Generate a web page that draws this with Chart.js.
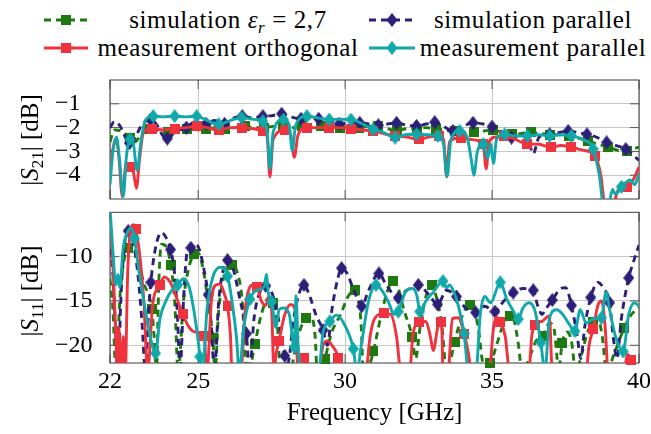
<!DOCTYPE html>
<html lang="en">
<head>
<meta charset="UTF-8">
<title>S-parameters</title>
<script src="https://cdn.jsdelivr.net/npm/chart.js"></script>
<style>
  body { margin: 0; background: #fff; }
  .page {
    position: relative;
    width: 651px;
    height: 434px;
    overflow: hidden;
    font-family: "Liberation Serif", "Times New Roman", serif;
    color: #000;
  }
  canvas { position: absolute; left: 0; }
  #s21Chart { top: 0; }
  #s11Chart { top: 205px; }
  .sample { position: absolute; }
  .legend-text {
    position: absolute;
    font-size: 25px;
    letter-spacing: 0.6px;
    line-height: 30px;
    text-align: center;
    white-space: nowrap;
  }
  .ylabel {
    position: absolute;
    width: 200px;
    height: 30px;
    line-height: 30px;
    font-size: 25px;
    text-align: center;
    white-space: nowrap;
    transform: rotate(-90deg);
  }
  .xlabel {
    position: absolute;
    left: 110px;
    width: 529px;
    top: 397px;
    line-height: 30px;
    font-size: 25px;
    text-align: center;
  }
  sub { font-size: 0.68em; vertical-align: -0.28em; line-height: 0; }
</style>
</head>
<body>
<div class="page">
  <!-- legend, two rows -->
  <svg class="sample" style="left:44px;top:13px" width="44" height="14">
    <line x1="0" y1="7" x2="44" y2="7" stroke="#1e7a10" stroke-width="2.9" stroke-dasharray="7 5"/>
    <rect x="17" y="2" width="10" height="10" fill="#1e7a10"/>
  </svg>
  <div class="legend-text" style="left:96px;width:264px;top:5px">simulation <i>ε</i><sub><i>r</i></sub> = 2,7</div>
  <svg class="sample" style="left:369px;top:12px" width="46" height="16">
    <line x1="0" y1="8" x2="46" y2="8" stroke="#2c1f78" stroke-width="2.9" stroke-dasharray="7 5"/>
    <polygon points="23,1 28.5,8 23,15 17.5,8" fill="#2c1f78"/>
  </svg>
  <div class="legend-text" style="left:417px;width:232px;top:5px">simulation parallel</div>

  <svg class="sample" style="left:44px;top:41px" width="44" height="14">
    <line x1="0" y1="7" x2="44" y2="7" stroke="#f0323e" stroke-width="2.9"/>
    <rect x="17" y="2" width="10" height="10" fill="#f0323e"/>
  </svg>
  <div class="legend-text" style="left:96px;width:264px;top:33px">measurement orthogonal</div>
  <svg class="sample" style="left:369px;top:40px" width="46" height="16">
    <line x1="0" y1="8" x2="46" y2="8" stroke="#10a8a8" stroke-width="2.9"/>
    <polygon points="23,1 28.5,8 23,15 17.5,8" fill="#10a8a8"/>
  </svg>
  <div class="legend-text" style="left:417px;width:232px;top:33px">measurement parallel</div>

  <canvas id="s21Chart" width="651" height="205"></canvas>
  <canvas id="s11Chart" width="651" height="229"></canvas>

  <div class="ylabel" style="left:-70px;top:125px">|<i>S</i><sub>21</sub>| [dB]</div>
  <div class="ylabel" style="left:-70px;top:276px">|<i>S</i><sub>11</sub>| [dB]</div>
  <div class="xlabel">Frequency [GHz]</div>
</div>

<script>
// axis ticks
const xTicks = [22, 25, 30, 35, 40];
const s21Ticks = [-4, -3, -2, -1];
const s11Ticks = [-20, -15, -10];

// samples as [GHz, dB]; a third entry 1 means a mark sits on that sample
const s21SimEps = [
  [22.0,-2.6],[22.15,-2.1],[22.4,-2.15],[22.68,-2.45,1],[22.85,-2.6],[23.05,-2.3],[23.33,-2.05,1],
  [23.6,-2.1],[23.8,-2.3],[23.98,-2.2,1],[24.3,-2.05],[24.63,-2.05,1],[24.95,-2.1],[25.28,-2.05,1],
  [25.6,-2.0],[25.93,-2.05,1],[26.25,-2.0],[26.58,-1.95,1],[26.9,-2.0],[27.23,-2.0,1],[27.55,-1.95],
  [27.88,-1.95,1],[28.2,-2.0],[28.53,-1.95,1],[28.85,-1.95],[29.18,-1.95,1],[29.5,-1.95],[29.83,-2.0,1],
  [30.15,-2.0],[30.48,-2.0,1],[30.8,-1.95],[31.13,-1.95,1],[31.45,-2.05],[31.78,-2.12,1],[32.1,-2.05],
  [32.43,-2.05,1],[32.75,-2.0],[33.08,-2.05,1],[33.4,-2.1],[33.73,-2.15,1],[34.05,-2.2],[34.38,-2.2,1],
  [34.7,-2.15],[35.03,-2.1,1],[35.35,-2.2],[35.68,-2.28,1],[36.0,-2.25],[36.33,-2.2,1],[36.65,-2.25],
  [36.98,-2.3,1],[37.3,-2.3],[37.63,-2.35,1],[37.95,-2.45],[38.28,-2.55,1],[38.6,-2.7],[38.93,-2.8,1],
  [39.25,-2.95],[39.58,-3.0,1],[39.8,-2.9],[40.0,-2.82]
];
const s21SimPar = [
  [22.0,-2.0],[22.15,-1.75],[22.35,-1.95],[22.5,-2.35],[22.66,-2.65,1],[22.85,-2.45],[23.05,-1.95],
  [23.38,-1.66,1],[23.6,-1.9],[23.8,-2.35],[23.95,-2.46,1],[24.2,-2.2],[24.6,-2.0,1],[24.9,-1.75],
  [25.27,-1.84,1],[25.55,-1.7],[25.9,-1.84,1],[26.2,-1.6],[26.5,-1.52,1],[26.85,-1.6],[27.2,-1.52,1],
  [27.5,-1.5],[27.84,-1.42,1],[28.15,-1.55],[28.5,-1.63,1],[28.8,-1.6],[29.1,-1.63,1],[29.45,-1.7],
  [29.8,-1.84,1],[30.15,-1.8],[30.5,-1.8,1],[30.8,-1.85],[31.13,-1.9,1],[31.45,-1.85],[31.75,-1.8,1],
  [32.1,-1.9],[32.43,-1.93,1],[32.75,-1.85],[33.05,-1.77,1],[33.35,-1.95],[33.67,-2.14,1],[34.0,-1.95],
  [34.35,-1.8,1],[34.7,-1.85],[35.0,-1.96,1],[35.35,-2.2],[35.66,-2.42,1],[35.95,-2.3],[36.25,-2.6],
  [36.4,-3.1],[36.6,-2.4],[36.96,-2.28,1],[37.3,-2.2],[37.59,-2.14,1],[37.9,-2.2],[38.23,-2.28,1],
  [38.55,-2.4],[38.9,-2.62,1],[39.2,-2.75],[39.55,-2.9,1],[39.8,-3.15],[40.0,-3.38]
];
const s21MeasOrth = [
  [22.0,-3.7],[22.1,-2.9],[22.2,-2.45],[22.3,-3.2],[22.42,-4.9],[22.55,-3.5],[22.68,-3.66,1],
  [22.8,-3.9],[22.9,-4.55],[23.0,-3.4],[23.13,-2.25],[23.42,-2.04,1],[23.8,-2.1],[24.2,-2.04,1],
  [24.6,-2.0],[24.95,-1.93,1],[25.3,-2.0],[25.7,-2.11,1],[26.1,-2.0],[26.5,-2.0,1],[26.9,-2.05],
  [27.2,-2.14,1],[27.35,-2.4],[27.44,-4.07],[27.55,-2.5],[27.95,-2.11,1],[28.15,-2.3],[28.27,-3.25],
  [28.4,-2.3],[28.7,-2.0,1],[29.1,-2.0],[29.46,-2.0,1],[29.8,-2.0],[30.2,-2.04,1],[30.6,-2.1],
  [30.94,-2.14,1],[31.3,-2.25],[31.7,-2.35,1],[32.1,-2.4],[32.5,-2.49,1],[32.85,-2.4],[33.2,-2.35,1],
  [33.35,-2.5],[33.45,-4.07],[33.55,-2.6],[33.95,-2.42,1],[34.3,-2.5],[34.7,-2.69,1],[34.8,-3.73],
  [34.9,-2.6],[35.1,-2.4],[35.4,-2.35,1],[35.8,-2.5],[36.2,-2.69,1],[36.6,-2.7],[37.0,-2.83,1],
  [37.35,-2.75],[37.7,-2.83,1],[38.1,-2.95],[38.5,-3.18,1],[38.7,-4.0],[38.85,-5.3],[39.1,-5.3],
  [39.3,-4.6],[39.6,-4.5,1],[39.8,-4.2],[40.0,-3.66]
];
const s21MeasPar = [
  [22.0,-4.4],[22.1,-3.0],[22.22,-2.4],[22.32,-3.3],[22.45,-4.9],[22.56,-3.2],[22.68,-2.49,1],
  [22.8,-2.7],[22.92,-3.8],[23.05,-2.6],[23.2,-1.7],[23.47,-1.52,1],[23.8,-1.55],[24.2,-1.52,1],
  [24.6,-1.55],[24.95,-1.52,1],[25.3,-1.7],[25.7,-1.86,1],[26.1,-1.7],[26.48,-1.58,1],[26.85,-1.65],
  [27.2,-1.73,1],[27.35,-2.2],[27.44,-3.73],[27.55,-2.2],[27.9,-1.66,1],[28.1,-1.9],[28.2,-2.97],
  [28.32,-1.9],[28.7,-1.52,1],[29.1,-1.6],[29.46,-1.66,1],[29.8,-1.65],[30.2,-1.66,1],[30.6,-1.85],
  [30.95,-2.07,1],[31.3,-2.2],[31.7,-2.42,1],[32.05,-2.3],[32.43,-2.28,1],[32.8,-2.3],[33.16,-2.35,1],
  [33.35,-2.7],[33.47,-4.07],[33.6,-2.5],[33.9,-2.14,1],[34.15,-2.4],[34.3,-3.4],[34.38,-4.0],
  [34.5,-3.0],[34.7,-2.69,1],[34.85,-3.3],[34.95,-2.7],[35.05,-3.5],[35.15,-2.5],[35.43,-2.28,1],
  [35.8,-2.35],[36.2,-2.35,1],[36.6,-2.3],[36.96,-2.35,1],[37.3,-2.3],[37.7,-2.35,1],[38.1,-2.5],
  [38.44,-2.9,1],[38.65,-4.0],[38.8,-5.3],[38.95,-5.3],[39.1,-4.6],[39.2,-4.8],[39.4,-4.49,1],
  [39.7,-4.2],[39.85,-4.4],[40.0,-3.94]
];

const s11SimEps = [
  [22.0,-12.5],[22.1,-16],[22.2,-23],[22.35,-14],[22.5,-10],[22.62,-9.07,1],[22.78,-8.8],[22.95,-10.5],
  [23.15,-13],[23.42,-15.9,1],[23.5,-19],[23.58,-23],[23.66,-13],[23.75,-8.6],[23.9,-8.8],[24.07,-11.0,1],
  [24.2,-15],[24.32,-23],[24.5,-15],[24.7,-11],[24.87,-9.75,1],[25.0,-9.6],[25.2,-12],[25.35,-15.5],
  [25.5,-19.2,1],[25.57,-23],[25.7,-16],[25.9,-12],[26.14,-10.9,1],[26.3,-11.5],[26.5,-15],[26.65,-23],
  [26.8,-22],[26.93,-19.9,1],[27.15,-16.5],[27.4,-14.7],[27.56,-15.2,1],[27.7,-18],[27.8,-23],[28.1,-23],
  [28.4,-19],[28.67,-16.9,1],[28.85,-16.8],[28.98,-19],[29.05,-23],[29.2,-22.5],[29.31,-21.5,1],
  [29.55,-18.5],[29.85,-16.5],[30.1,-14.5],[30.33,-13.8,1],[30.45,-14.3],[30.55,-18],[30.62,-23],
  [30.8,-22.5],[30.96,-20.7,1],[31.2,-17],[31.45,-13.8],[31.64,-12.76,1],[31.8,-13.5],[32.0,-16],
  [32.28,-19.05,1],[32.4,-21.5],[32.55,-18],[32.75,-14.5],[32.94,-13.2,1],[33.1,-14.5],[33.3,-18],
  [33.45,-23],[33.6,-21.5],[33.73,-19.6,1],[33.95,-17],[34.24,-15.5,1],[34.4,-16],[34.55,-18.5],
  [34.7,-22],[34.93,-22,1],[35.15,-20],[35.4,-17.5],[35.6,-16.7,1],[35.75,-17.2],[35.9,-20],[36.02,-23],
  [36.2,-22],[36.5,-19.5],[36.74,-18.9,1],[36.95,-17.5],[37.1,-18],[37.2,-21],[37.25,-23],[37.39,-19.7,1],
  [37.55,-18.5],[37.7,-19.5],[37.85,-23],[38.05,-21],[38.25,-18.5],[38.44,-17.4,1],[38.6,-17.0],
  [38.75,-19],[38.9,-23],[39.15,-21],[39.49,-18.1,1],[39.75,-16.5],[40.0,-15.8]
];
const s11SimPar = [
  [22.0,-7.7],[22.1,-12],[22.2,-19],[22.27,-23],[22.38,-14],[22.5,-8.5],[22.62,-7.1,1],[22.75,-7.8],
  [22.95,-12],[23.1,-18],[23.2,-23],[23.3,-17],[23.39,-12.9,1],[23.55,-9.0],[23.75,-7.3],[23.9,-7.8],
  [24.06,-9.2,1],[24.2,-12],[24.3,-17],[24.38,-23],[24.5,-15],[24.62,-9.6],[24.75,-9.0,1],[24.9,-8.5],
  [25.05,-9.3],[25.2,-11.5],[25.34,-14.3,1],[25.45,-18],[25.55,-23],[25.7,-15],[25.85,-11.5],
  [26.0,-10.4,1],[26.2,-11.5],[26.4,-14.5],[26.64,-18.7,1],[26.75,-23],[26.9,-17],[27.1,-14],
  [27.3,-13.3,1],[27.5,-14],[27.7,-16.5],[27.95,-21.2,1],[28.05,-22],[28.25,-17],[28.45,-14],
  [28.6,-13.2,1],[28.8,-14.5],[29.0,-16.5],[29.25,-18.3,1],[29.4,-20],[29.55,-16],[29.75,-12.5],
  [29.88,-11.3,1],[30.05,-11.8],[30.3,-13.8],[30.56,-15.6,1],[30.8,-13.8],[31.15,-11.9,1],[31.4,-13.2],
  [31.81,-14.65,1],[32.1,-13.8],[32.49,-13.2,1],[32.85,-14.3],[33.15,-15.4,1],[33.45,-13.8],
  [33.79,-14.5,1],[34.1,-15.8],[34.44,-16.3,1],[34.75,-15.6],[35.1,-16.2,1],[35.4,-15.0],[35.72,-14.05,1],
  [36.05,-13.6],[36.4,-13.8,1],[36.55,-15.5],[36.7,-16.5],[36.85,-15.8],[37.05,-14.9,1],[37.3,-13.7],
  [37.5,-13.5],[37.7,-15.5,1],[37.9,-19],[38.02,-21.5],[38.15,-18],[38.36,-14.6,1],[38.6,-12.9],
  [38.8,-13.6],[39.0,-15.2,1],[39.12,-19],[39.25,-21.5],[39.4,-17],[39.65,-12.4,1],[39.85,-10.2],[40.0,-8.7]
];
const s11MeasOrth = [
  [22.0,-5.7],[22.1,-11],[22.2,-19],[22.25,-23],[22.3,-18],[22.37,-23],[22.45,-19],[22.52,-23],
  [22.6,-12],[22.7,-7.0],[22.8,-6.4],[22.87,-6.9,1],[23.0,-9.5],[23.15,-15],[23.28,-23],[23.45,-15.5],
  [23.7,-13.2,1],[23.85,-12.3],[24.05,-12.9],[24.25,-14.5],[24.47,-16.5,1],[24.7,-18],[24.9,-18.5],
  [25.2,-18.9,1],[25.3,-23],[25.45,-15],[25.6,-13.2],[25.75,-13.1],[25.9,-14.3],[26.0,-15.55,1],
  [26.1,-19],[26.15,-23],[26.45,-23],[26.6,-16],[26.85,-13.2],[27.0,-13.4,1],[27.15,-15],[27.3,-15.5],
  [27.4,-14.5],[27.5,-16],[27.58,-23],[27.65,-21],[27.75,-19.5,1],[27.95,-16.5],[28.15,-15.4],
  [28.3,-16],[28.4,-23],[28.5,-22],[28.6,-21.4,1],[28.7,-23],[29.1,-23],[29.25,-20],[29.4,-19.5],
  [29.55,-20],[29.77,-21.4,1],[29.85,-23],[30.7,-23],[30.85,-19],[31.0,-17],[31.33,-16.4,1],
  [31.55,-16.5],[31.75,-19],[31.9,-23],[32.2,-23],[32.3,-19],[32.51,-17.4,1],[32.75,-17.3],[32.9,-19],
  [33.0,-20.6],[33.15,-18],[33.26,-17.35,1],[33.3,-19],[33.33,-23],[33.5,-23],[33.65,-17],[33.85,-16.9],
  [34.05,-18.7,1],[34.2,-21],[34.3,-23],[34.9,-23],[35.05,-18],[35.15,-16.8],[35.27,-17.35,1],
  [35.45,-19],[35.6,-23],[36.25,-23],[36.35,-19],[36.46,-17.7,1],[36.7,-17.3],[36.95,-16.7],[37.05,-23],
  [38.2,-23],[38.3,-20],[38.44,-18.2,1],[38.6,-15.5],[38.73,-15.0],[38.85,-18],[38.95,-23],[39.5,-23],
  [39.6,-21],[39.72,-21.7,1],[39.8,-23],[40.0,-23]
];
const s11MeasPar = [
  [22.0,-4.5],[22.1,-9.5],[22.2,-13.2],[22.27,-12],[22.33,-13.5],[22.45,-9],[22.6,-7.2],[22.72,-6.8],
  [22.83,-7.95,1],[23.0,-12],[23.2,-16],[23.4,-19.5],[23.55,-20.9,1],[23.7,-17],[23.9,-15.0],[24.1,-13.8],
  [24.3,-13.2,1],[24.5,-12.5],[24.7,-13.5],[24.85,-16],[25.0,-19.5],[25.06,-21.3,1],[25.15,-23],
  [25.3,-16],[25.5,-12.3],[25.75,-11.2],[26.0,-12.2,1],[26.15,-15],[26.3,-19],[26.4,-23],[26.55,-18],
  [26.76,-14.8,1],[27.0,-13.8],[27.25,-13.4],[27.32,-12.0],[27.38,-14],[27.5,-15.1,1],[27.65,-18],
  [27.75,-16],[27.9,-15.8],[28.1,-16.5],[28.27,-20.2,1],[28.33,-14.4],[28.4,-20],[28.5,-23],[29.1,-23],
  [29.25,-18.5],[29.48,-17.3,1],[29.7,-16.6],[29.95,-17.5],[30.28,-20.4,1],[30.4,-23],[30.55,-20],
  [30.8,-15],[31.05,-13.2,1],[31.25,-13.8],[31.5,-15.3],[31.65,-16.5],[31.81,-16.2,1],[32.05,-14],
  [32.3,-13.6],[32.45,-14.5],[32.54,-16.2,1],[32.75,-15],[33.0,-14],[33.33,-12.77,1],[33.45,-13.5],
  [33.55,-13.2],[33.7,-14],[33.85,-15.5],[34.05,-18.7,1],[34.2,-23],[34.45,-23],[34.6,-16.5],
  [34.75,-14.5],[34.95,-15.2],[35.28,-12.9,1],[35.5,-14.8],[35.7,-16],[35.89,-17.05,1],[36.05,-15.8],
  [36.25,-15.2],[36.45,-16],[36.66,-19.7,1],[36.8,-23],[36.95,-17],[37.2,-16.0],[37.4,-16.5],[37.6,-17.5],
  [37.82,-18.4,1],[38.0,-16],[38.2,-17.5],[38.45,-17],[38.72,-16.9,1],[38.88,-14.0],[39.0,-16],
  [39.2,-19],[39.46,-20.7,1],[39.65,-16.5],[39.85,-15.2],[40.0,-15.6]
];

const serif = '"Liberation Serif", "Times New Roman", serif';
const green = '#1e7a10';
const navy = '#2c1f78';
const red = '#f0323e';
const cyan = '#10a8a8';

function markCanvas(shape, color) {
  const c = document.createElement('canvas');
  const g = c.getContext('2d');
  if (shape === 'square') {
    c.width = 10; c.height = 10;
    g.fillStyle = color;
    g.fillRect(0, 0, 10, 10);
  } else {
    c.width = 11; c.height = 14;
    g.fillStyle = color;
    g.beginPath();
    g.moveTo(5.5, 0); g.lineTo(11, 7); g.lineTo(5.5, 14); g.lineTo(0, 7);
    g.closePath();
    g.fill();
  }
  return c;
}

// line + its marks; lower order is drawn on top
function series(data, color, dashed, shape, order) {
  const pts = data.map(p => ({x: p[0], y: p[1]}));
  const marks = data.filter(p => p[2]).map(p => ({x: p[0], y: p[1]}));
  return [
    {
      data: pts, borderColor: color, borderWidth: 2.9,
      borderDash: dashed ? [7, 5] : [], pointRadius: 0,
      cubicInterpolationMode: 'monotone', fill: false, clip: 0, order: order + 1
    },
    {
      data: marks, showLine: false, pointStyle: markCanvas(shape, color),
      pointRadius: 5, clip: false, order: order
    }
  ];
}

const frame = {
  id: 'frame',
  beforeDatasetsDraw(chart) {
    const {ctx, chartArea: a, scales} = chart;
    ctx.save();
    ctx.strokeStyle = '#555';
    ctx.lineWidth = 1;
    ctx.beginPath();
    scales.x.ticks.forEach(t => {
      const px = scales.x.getPixelForValue(t.value);
      ctx.moveTo(px, a.top); ctx.lineTo(px, a.top + 9);
      ctx.moveTo(px, a.bottom); ctx.lineTo(px, a.bottom - 9);
    });
    scales.y.ticks.forEach(t => {
      const py = scales.y.getPixelForValue(t.value);
      ctx.moveTo(a.left, py); ctx.lineTo(a.left + 9, py);
      ctx.moveTo(a.right, py); ctx.lineTo(a.right - 9, py);
    });
    ctx.stroke();
    ctx.strokeStyle = '#3a3a3a';
    ctx.strokeRect(a.left, a.top, a.right - a.left, a.bottom - a.top);
    ctx.restore();
  }
};

function xScale(showTicks) {
  return {
    type: 'linear', min: 22, max: 40,
    afterBuildTicks: s => { s.ticks = xTicks.map(v => ({value: v})); },
    afterFit: s => { s.height = showTicks ? 71 : 0; s.paddingLeft = 0; s.paddingRight = 0; },
    grid: { color: '#c6c6c6', lineWidth: 1, drawTicks: false },
    border: { display: false },
    ticks: {
      display: showTicks, padding: 4, color: '#000', maxRotation: 0, autoSkip: false,
      font: { family: serif, size: 24 }
    }
  };
}

function yScale(min, max, ticks) {
  return {
    type: 'linear', min: min, max: max,
    afterBuildTicks: s => { s.ticks = ticks.map(v => ({value: v})); },
    afterFit: s => { s.width = 55; s.paddingTop = 0; s.paddingBottom = 0; },
    grid: { color: '#c6c6c6', lineWidth: 1, drawTicks: false },
    border: { display: false },
    ticks: {
      crossAlign: 'far', padding: 0, color: '#000', autoSkip: false,
      font: { family: serif, size: 24 },
      callback: v => (v < 0 ? '\u2212' : '') + Math.abs(v)
    }
  };
}

function makeChart(id, sets, yMin, yMax, yTicks, showX, padding) {
  new Chart(document.getElementById(id), {
    type: 'line',
    data: {
      datasets: [
        ...series(sets[3], cyan, false, 'diamond', 0),
        ...series(sets[2], red, false, 'square', 2),
        ...series(sets[1], navy, true, 'diamond', 4),
        ...series(sets[0], green, true, 'square', 6)
      ]
    },
    options: {
      responsive: false,
      animation: false,
      devicePixelRatio: 1,
      layout: { padding: padding },
      scales: { x: xScale(showX), y: yScale(yMin, yMax, yTicks) },
      plugins: { legend: { display: false }, tooltip: { enabled: false } }
    },
    plugins: [frame]
  });
}

makeChart('s21Chart', [s21SimEps, s21SimPar, s21MeasOrth, s21MeasPar], -5, 0, s21Ticks, false,
  { left: 55, right: 12, top: 80, bottom: 4.3 });
makeChart('s11Chart', [s11SimEps, s11SimPar, s11MeasOrth, s11MeasPar], -22, -5, s11Ticks, true,
  { left: 55, right: 12, top: 7.3, bottom: 0 });
</script>
</body>
</html>
